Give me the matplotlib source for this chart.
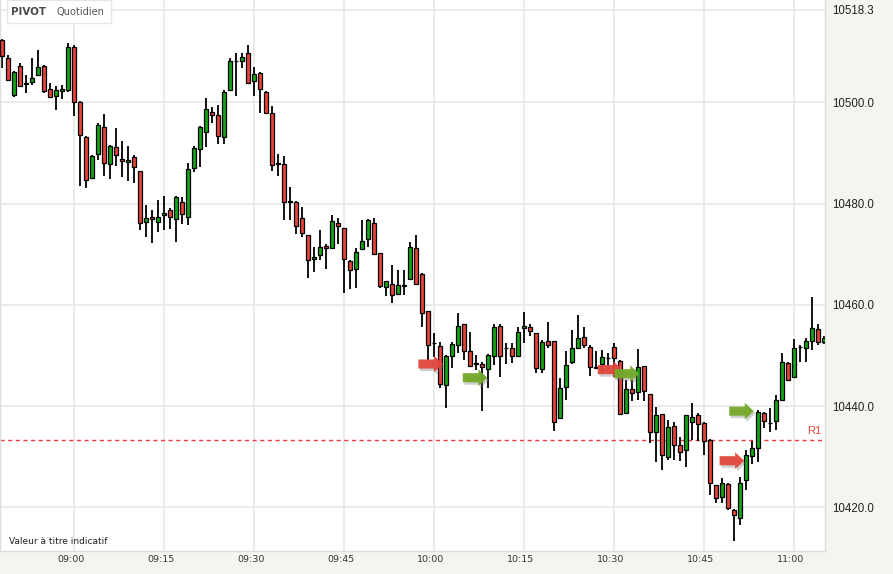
import numpy as np
import matplotlib
matplotlib.use('Agg')
import matplotlib.pyplot as plt
from matplotlib.patches import FancyArrow, Rectangle
import matplotlib.patheffects as pe
import matplotlib.transforms as mtrans

# 1-minute candles, first one at 08:48
start_minute = 8 * 60 + 48

opens = [
    10512.4, 10508.7, 10501.4, 10507.2, 10503.6, 10504.0, 10505.3, 10507.2, 10502.6, 10501.2,
    10502.3, 10502.4, 10510.9, 10500.1, 10493.2, 10485.0, 10489.8, 10495.1, 10487.8, 10491.2,
    10488.9, 10488.3, 10489.2, 10486.4, 10476.3, 10477.4, 10476.3, 10477.8, 10478.7, 10477.0,
    10480.4, 10477.4, 10487.0, 10490.8, 10494.2, 10498.1, 10497.4, 10493.1, 10502.4, 10508.1,
    10508.2, 10509.7, 10504.3, 10505.8, 10502.1, 10497.8, 10487.9, 10487.8, 10480.4, 10480.4,
    10477.1, 10473.7, 10469.0, 10469.8, 10471.6, 10471.3, 10476.2, 10475.1, 10468.7, 10467.0,
    10471.0, 10473.0, 10476.2, 10470.2, 10463.5, 10464.2, 10462.1, 10463.8, 10465.0, 10471.2,
    10466.1, 10458.7, 10452.4, 10451.9, 10444.1, 10449.9, 10452.1, 10456.2, 10450.9, 10448.3,
    10448.4, 10447.3, 10449.9, 10455.9, 10451.4, 10451.4, 10449.9, 10455.4, 10455.7, 10454.4,
    10447.3, 10452.9, 10452.8, 10437.6, 10443.8, 10448.8, 10451.4, 10453.7, 10451.7, 10447.5,
    10448.3, 10449.4, 10451.7, 10448.9, 10438.6, 10443.3, 10442.8, 10447.9, 10442.3, 10434.9,
    10438.4, 10430.0, 10436.1, 10432.3, 10431.3, 10436.9, 10438.2, 10436.7, 10433.3, 10424.4,
    10422.1, 10424.7, 10419.5, 10417.8, 10425.4, 10430.1, 10431.7, 10438.6, 10436.6, 10437.1,
    10441.2, 10448.6, 10445.8, 10451.6, 10451.4, 10452.9, 10455.2, 10452.6]

closes = [
    10509.1, 10504.5, 10506.0, 10503.2, 10503.6, 10504.9, 10506.9, 10502.3, 10501.0, 10502.4,
    10502.6, 10510.9, 10500.1, 10493.5, 10484.7, 10489.4, 10495.5, 10488.0, 10491.4, 10489.5,
    10488.5, 10488.7, 10487.3, 10476.1, 10477.1, 10476.9, 10477.3, 10478.1, 10477.4, 10481.2,
    10477.9, 10486.8, 10490.9, 10495.2, 10498.7, 10497.4, 10493.3, 10502.1, 10508.2, 10508.2,
    10508.9, 10503.9, 10505.6, 10502.6, 10497.8, 10487.6, 10487.9, 10480.4, 10480.4, 10475.6,
    10474.1, 10468.9, 10469.4, 10471.4, 10471.2, 10476.6, 10475.6, 10469.0, 10466.9, 10470.4,
    10472.7, 10476.8, 10470.0, 10463.7, 10464.7, 10461.9, 10463.9, 10463.8, 10471.4, 10464.2,
    10458.3, 10452.1, 10452.4, 10444.4, 10449.9, 10452.2, 10455.9, 10450.9, 10448.0, 10448.3,
    10447.8, 10450.1, 10455.7, 10449.9, 10451.4, 10449.9, 10454.7, 10455.9, 10454.8, 10447.5,
    10452.7, 10452.1, 10436.9, 10443.5, 10448.1, 10451.4, 10453.4, 10452.1, 10447.7, 10447.5,
    10449.6, 10449.4, 10449.4, 10438.4, 10443.3, 10442.5, 10447.7, 10443.0, 10434.9, 10438.2,
    10430.3, 10435.9, 10432.3, 10431.0, 10438.2, 10437.9, 10436.4, 10433.0, 10424.9, 10421.8,
    10424.9, 10419.8, 10418.5, 10424.9, 10430.3, 10431.7, 10438.9, 10437.1, 10436.6, 10441.2,
    10448.7, 10445.1, 10451.4, 10451.6, 10452.9, 10455.4, 10452.7, 10453.4]

highs = [
    10512.6, 10509.3, 10506.2, 10507.7, 10505.4, 10508.7, 10510.3, 10507.4, 10503.8, 10503.2,
    10503.4, 10511.8, 10511.3, 10500.2, 10493.3, 10489.5, 10495.9, 10497.7, 10491.5, 10495.0,
    10492.4, 10491.4, 10489.6, 10486.5, 10479.7, 10478.7, 10480.7, 10481.5, 10479.1, 10481.5,
    10481.2, 10488.0, 10491.4, 10495.3, 10500.9, 10499.0, 10499.4, 10502.4, 10508.7, 10509.7,
    10509.7, 10511.4, 10507.0, 10506.0, 10502.3, 10499.3, 10489.7, 10489.4, 10483.3, 10480.5,
    10479.4, 10473.8, 10471.5, 10474.8, 10472.0, 10477.7, 10477.2, 10475.2, 10468.8, 10471.2,
    10476.8, 10476.9, 10477.2, 10470.3, 10464.8, 10467.9, 10466.9, 10466.9, 10472.5, 10473.8,
    10466.2, 10458.8, 10454.4, 10452.7, 10450.0, 10452.7, 10458.3, 10456.3, 10454.7, 10450.1,
    10448.8, 10450.2, 10456.2, 10456.2, 10452.5, 10452.4, 10455.7, 10458.6, 10456.3, 10454.5,
    10453.0, 10456.7, 10452.9, 10445.5, 10450.9, 10455.0, 10458.0, 10455.7, 10452.1, 10450.9,
    10451.1, 10450.4, 10452.4, 10449.0, 10445.1, 10445.1, 10451.2, 10448.0, 10442.4, 10439.8,
    10438.5, 10437.2, 10436.9, 10433.9, 10438.3, 10440.7, 10438.6, 10436.8, 10433.4, 10424.5,
    10425.7, 10424.8, 10419.6, 10426.0, 10431.3, 10433.0, 10439.2, 10438.9, 10439.7, 10442.2,
    10450.5, 10448.7, 10453.2, 10452.1, 10453.4, 10461.5, 10456.2, 10453.8]

lows = [
    10506.7, 10504.3, 10501.1, 10503.0, 10501.8, 10503.4, 10505.2, 10501.8, 10500.9, 10498.5,
    10500.6, 10502.0, 10497.3, 10483.5, 10483.0, 10484.9, 10488.7, 10485.4, 10484.9, 10487.5,
    10485.3, 10484.5, 10484.0, 10474.8, 10473.3, 10472.3, 10474.4, 10474.8, 10475.0, 10472.5,
    10476.0, 10475.8, 10486.2, 10487.3, 10491.2, 10496.0, 10491.8, 10491.8, 10502.3, 10501.2,
    10506.8, 10503.7, 10501.2, 10497.9, 10497.7, 10486.5, 10485.4, 10476.8, 10476.8, 10474.0,
    10473.3, 10465.2, 10466.5, 10468.9, 10467.0, 10471.0, 10472.0, 10462.3, 10463.1, 10463.3,
    10470.9, 10471.5, 10469.8, 10463.3, 10461.7, 10460.3, 10461.9, 10461.9, 10464.9, 10464.1,
    10455.6, 10449.1, 10449.7, 10443.5, 10439.6, 10447.5, 10450.4, 10449.1, 10447.9, 10447.1,
    10439.0, 10443.5, 10448.1, 10445.8, 10448.4, 10448.6, 10449.8, 10452.4, 10453.9, 10446.5,
    10446.5, 10451.5, 10435.1, 10437.4, 10441.2, 10448.4, 10451.3, 10451.4, 10445.9, 10447.3,
    10446.5, 10447.1, 10445.8, 10438.3, 10438.5, 10441.0, 10441.2, 10441.0, 10432.7, 10429.0,
    10427.4, 10429.3, 10429.3, 10429.2, 10428.0, 10433.3, 10433.0, 10430.3, 10422.4, 10420.8,
    10420.8, 10419.5, 10413.4, 10416.5, 10423.4, 10428.6, 10429.0, 10435.6, 10434.9, 10435.3,
    10441.1, 10444.9, 10445.7, 10448.8, 10448.8, 10451.1, 10452.1, 10452.3]

# pivot level
r1_level = 10433.2

# signal arrows: tip time (minutes after midnight), price, type
arrow_tips = [601.5, 608.9, 631.4, 634.2, 651.7, 653.3]
arrow_prices = [10448.3, 10445.6, 10447.2, 10446.4, 10429.2, 10439.0]
arrow_kinds = ['sell', 'buy', 'sell', 'buy', 'sell', 'buy']

time_labels = ['09:00', '09:15', '09:30', '09:45', '10:00', '10:15', '10:30', '10:45', '11:00']
price_ticks = [10420.0, 10440.0, 10460.0, 10480.0, 10500.0, 10518.3]

# colours
green = '#14a514'
red = '#e8433b'
arrow_red = '#e2473c'
arrow_green = '#74a82a'
panel_bg = '#f5f4f0'
grid_col = '#e6e6e6'

o = np.array(opens)
c = np.array(closes)
h = np.array(highs)
l = np.array(lows)
x = start_minute + np.arange(len(o))

fig = plt.figure(figsize=(8.93, 5.74), dpi=100, facecolor=panel_bg)
ax = fig.add_axes([0, 23 / 574, 825 / 893, 551 / 574])
ax.set_facecolor('white')

# grid
tick_minutes = [int(t[:2]) * 60 + int(t[3:]) for t in time_labels]
ax.set_xticks(tick_minutes)
ax.set_xticklabels(time_labels)
ax.set_yticks(price_ticks)
ax.set_yticklabels(['%.1f' % p for p in price_ticks])
ax.grid(True, color=grid_col, lw=1.1, zorder=0)
ax.set_axisbelow(True)

# wicks and bodies
ax.vlines(x, l, h, color='black', lw=1.3, zorder=2)
body_bottom = np.minimum(o, c)
body_h = np.maximum(np.abs(c - o), 0.15)
cols = [green if cc >= oo else red for oo, cc in zip(o, c)]
ax.bar(x, body_h, bottom=body_bottom, width=0.64, color=cols,
       edgecolor='black', linewidth=0.9, zorder=3)

# R1 line
ax.axhline(r1_level, color='#ee3b3b', lw=1, ls=(0, (3, 2.5)), zorder=1)
ax.annotate('R1', xy=(0.996, r1_level), xycoords=('axes fraction', 'data'),
            xytext=(0, 3), textcoords='offset points', ha='right', va='bottom',
            color='#e8433b', fontsize=8, family='Liberation Sans')

# arrows
shadow = [pe.SimplePatchShadow(offset=(1.2, -1.8), shadow_rgbFace='#777777', alpha=0.35),
          pe.Normal()]
for tip, price, kind in zip(arrow_tips, arrow_prices, arrow_kinds):
    col = arrow_red if kind == 'sell' else arrow_green
    arr = FancyArrow(tip - 4.1, price, 4.1, 0, width=1.8, head_width=3.3,
                     head_length=1.5, length_includes_head=True,
                     facecolor=col, edgecolor='none', alpha=0.95, zorder=5)
    arr.set_path_effects(shadow)
    ax.add_patch(arr)

ax.set_xlim(start_minute - 0.33, start_minute + 137.17)
ax.set_ylim(10411.37, 10520.21)

ax.yaxis.tick_right()
ax.tick_params(axis='y', length=0, pad=5, labelsize=8.3, labelcolor='#222222')
ax.tick_params(axis='x', length=0, pad=3, labelsize=6.8, labelcolor='#333333')
for lbl in ax.get_yticklabels():
    lbl.set_fontfamily('Liberation Sans')
shift = mtrans.ScaledTranslation(-3 / 100, 0, fig.dpi_scale_trans)
for lbl in ax.get_xticklabels():
    lbl.set_transform(lbl.get_transform() + shift)

for s in ax.spines.values():
    s.set_color('#dddddd')
    s.set_linewidth(1)
ax.spines['top'].set_visible(False)

# title box
ax.add_patch(Rectangle((6.5 / 825, 1 - 23 / 551), 104.5 / 825, 23 / 551,
                       transform=ax.transAxes, facecolor='white',
                       edgecolor='#e6e6e6', lw=1, zorder=6))
ax.text(11 / 825, 1 - 12 / 551, 'PIVOT', transform=ax.transAxes, va='center',
        ha='left', fontsize=7.4, fontweight='bold', color='#4a4a4a', zorder=7)
ax.text(56 / 825, 1 - 12 / 551, 'Quotidien', transform=ax.transAxes, va='center',
        ha='left', fontsize=7.1, color='#555555', zorder=7)

ax.text(9 / 825, 10 / 551, 'Valeur à titre indicatif', transform=ax.transAxes,
        ha='left', va='center', fontsize=6.5, color='#222222')

fig.savefig('out.png', dpi=100, facecolor=panel_bg)
